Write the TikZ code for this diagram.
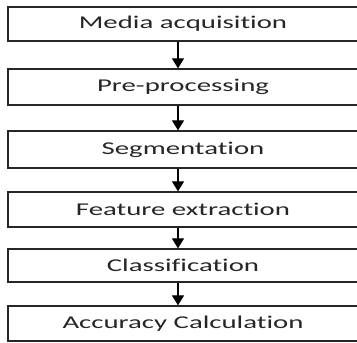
\documentclass[tikz,border=0pt]{standalone}
\usepackage{fontspec}
\setmainfont{Carlito}[FakeStretch=1.6,Ligatures=NoCommon]
\usetikzlibrary{arrows.meta}
\begin{document}
\begin{tikzpicture}[x=1pt,y=1pt,
  stage/.style={draw=black!85, line width=1.3pt, rectangle, minimum width=350pt, inner sep=0pt, font=\fontsize{18}{20}\selectfont, text=black!85},
  arr/.style={draw=black, line width=1.3pt, -{Triangle[width=12pt,length=10pt]}}]
\useasboundingbox (0,0) rectangle (357,343);
\clip (0,0) rectangle (357,343);
\fill[white] (0,0) rectangle (357,343);
\node[stage, minimum height=34pt] (b1) at (183,319) {Media acquisition};
\node[stage, minimum height=36pt] (b2) at (183,256) {Pre-processing};
\node[stage, minimum height=37pt] (b3) at (183,193.5) {Segmentation};
\node[stage, minimum height=35pt] (b4) at (183,133.5) {Feature extraction};
\node[stage, minimum height=33pt] (b5) at (183,77.5) {Classification};
\node[stage, minimum height=35pt] (b6) at (183,19.5) {Accuracy Calculation};
\coordinate (ax) at (178,0);
\draw[arr] (b1.south -| ax) -- (b2.north -| ax);
\draw[arr] (b2.south -| ax) -- (b3.north -| ax);
\draw[arr] (b3.south -| ax) -- (b4.north -| ax);
\draw[arr] (b4.south -| ax) -- (b5.north -| ax);
\draw[arr] (b5.south -| ax) -- (b6.north -| ax);
\end{tikzpicture}
\end{document}
